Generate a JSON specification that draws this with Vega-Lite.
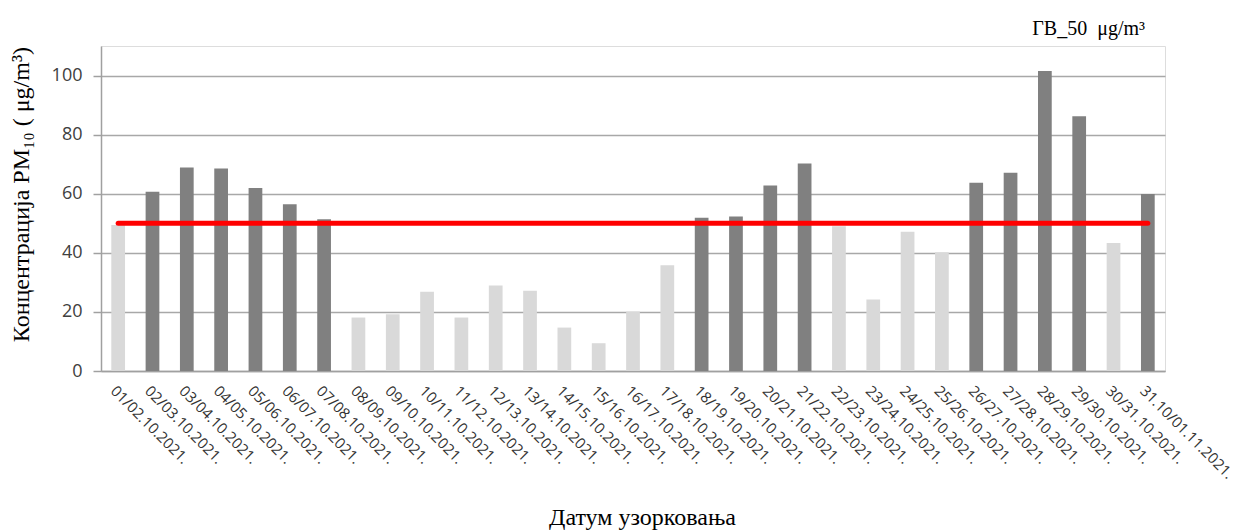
{
  "$schema": "https://vega.github.io/schema/vega-lite/v6.json",
  "width": 1064,
  "height": 325,
  "autosize": {"type": "none"},
  "padding": {"left": 101, "top": 46, "right": 74, "bottom": 161},
  "background": "white",
  "title": {
    "text": "ГВ_50 \u00a0μg/m³",
    "anchor": "end",
    "frame": "group",
    "font": "Liberation Serif",
    "fontSize": 20,
    "fontWeight": "normal",
    "color": "#000000",
    "baseline": "alphabetic",
    "offset": 13,
    "dx": -20,
    "dy": 22
  },
  "data": {
    "values": [
      {"datum": "01/02.10.2021.", "value": 49.4, "gv": 50},
      {"datum": "02/03.10.2021.", "value": 60.7, "gv": 50},
      {"datum": "03/04.10.2021.", "value": 68.9, "gv": 50},
      {"datum": "04/05.10.2021.", "value": 68.5, "gv": 50},
      {"datum": "05/06.10.2021.", "value": 61.9, "gv": 50},
      {"datum": "06/07.10.2021.", "value": 56.4, "gv": 50},
      {"datum": "07/08.10.2021.", "value": 51.4, "gv": 50},
      {"datum": "08/09.10.2021.", "value": 18.1, "gv": 50},
      {"datum": "09/10.10.2021.", "value": 19.2, "gv": 50},
      {"datum": "10/11.10.2021.", "value": 26.8, "gv": 50},
      {"datum": "11/12.10.2021.", "value": 18.1, "gv": 50},
      {"datum": "12/13.10.2021.", "value": 28.9, "gv": 50},
      {"datum": "13/14.10.2021.", "value": 27.2, "gv": 50},
      {"datum": "14/15.10.2021.", "value": 14.7, "gv": 50},
      {"datum": "15/16.10.2021.", "value": 9.4, "gv": 50},
      {"datum": "16/17.10.2021.", "value": 20.1, "gv": 50},
      {"datum": "17/18.10.2021.", "value": 35.8, "gv": 50},
      {"datum": "18/19.10.2021.", "value": 51.9, "gv": 50},
      {"datum": "19/20.10.2021.", "value": 52.3, "gv": 50},
      {"datum": "20/21.10.2021.", "value": 62.8, "gv": 50},
      {"datum": "21/22.10.2021.", "value": 70.2, "gv": 50},
      {"datum": "22/23.10.2021.", "value": 49.0, "gv": 50},
      {"datum": "23/24.10.2021.", "value": 24.2, "gv": 50},
      {"datum": "24/25.10.2021.", "value": 47.1, "gv": 50},
      {"datum": "25/26.10.2021.", "value": 40.2, "gv": 50},
      {"datum": "26/27.10.2021.", "value": 63.7, "gv": 50},
      {"datum": "27/28.10.2021.", "value": 67.1, "gv": 50},
      {"datum": "28/29.10.2021.", "value": 101.5, "gv": 50},
      {"datum": "29/30.10.2021.", "value": 86.2, "gv": 50},
      {"datum": "30/31.10.2021.", "value": 43.3, "gv": 50},
      {"datum": "31.10/01.11.2021.", "value": 59.9, "gv": 50}
    ]
  },
  "encoding": {
    "x": {
      "field": "datum",
      "type": "nominal",
      "sort": null,
      "scale": {"paddingInner": 0.6, "paddingOuter": 0.3},
      "axis": {
        "title": "Датум узорковања",
        "titleFont": "Liberation Serif",
        "titleFontSize": 24,
        "titleFontWeight": "normal",
        "titleColor": "#000000",
        "titleBaseline": "alphabetic",
        "titleY": 153,
        "titleX": 541,
        "labelAngle": 45,
        "labelAlign": "left",
        "labelBaseline": "top",
        "labelFont": "Open Sans",
        "labelFontSize": 15,
        "labelColor": "#333333",
        "labelPadding": 12,
        "labelOverlap": false,
        "ticks": false,
        "domain": true,
        "domainColor": "#a0a0a0",
        "domainWidth": 1.5,
        "grid": false
      }
    }
  },
  "layer": [
    {
      "mark": {"type": "bar"},
      "encoding": {
        "y": {
          "field": "value",
          "type": "quantitative",
          "scale": {"domain": [0, 110], "nice": false},
          "axis": {
            "title": "Концентрација PM₁₀ ( μg/m³)",
            "titleFont": "Liberation Serif",
            "titleFontSize": 24,
            "titleFontWeight": "normal",
            "titleColor": "#000000",
            "titlePadding": 18,
            "titleY": 148,
            "values": [0, 20, 40, 60, 80, 100],
            "labelFont": "Open Sans",
            "labelFontSize": 18,
            "labelColor": "#404040",
            "labelPadding": 11,
            "tickSize": 8,
            "tickColor": "#a0a0a0",
            "tickWidth": 1.5,
            "domainColor": "#a0a0a0",
            "domainWidth": 1.5,
            "gridColor": "#a8a8a8",
            "gridWidth": 1.5
          }
        },
        "color": {
          "condition": {"test": "datum.value > 50", "value": "#808080"},
          "value": "#d9d9d9"
        }
      }
    },
    {
      "mark": {"type": "line", "color": "#ff0000", "strokeWidth": 5, "strokeCap": "round"},
      "encoding": {
        "y": {"field": "gv", "type": "quantitative"}
      }
    }
  ]
}
